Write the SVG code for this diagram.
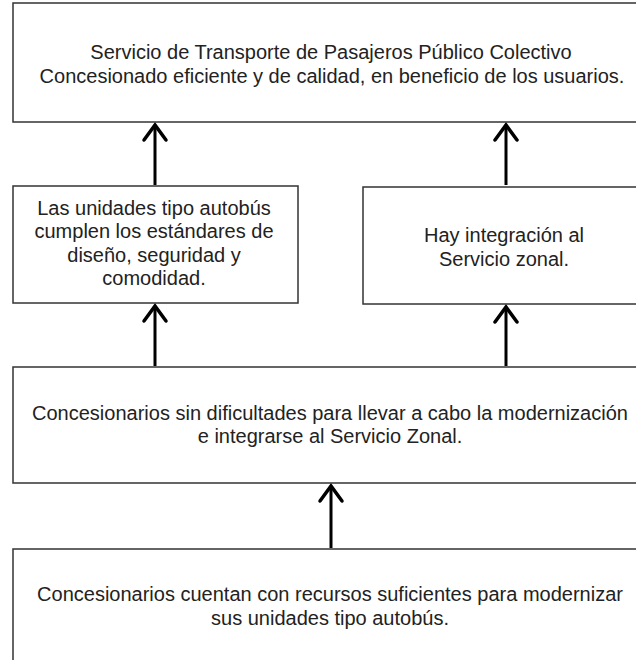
<svg xmlns="http://www.w3.org/2000/svg" width="636" height="660" viewBox="0 0 636 660">
<style>
.box{fill:#ffffff;stroke:#333333;stroke-width:1.5}
.t{font-family:"Liberation Sans",Arial,sans-serif;font-size:20px;fill:#222222;text-anchor:middle}
.c{stroke:#000000;stroke-width:3;fill:none}
</style>
<defs>
<marker id="ah" markerUnits="userSpaceOnUse" markerWidth="24" markerHeight="30" refX="19" refY="15" orient="auto" viewBox="0 0 24 30">
<polyline points="4,4 19,15 4,26" fill="none" stroke="#000000" stroke-width="3.5" stroke-linecap="round" stroke-linejoin="miter"/>
</marker>
</defs>
<rect width="636" height="660" fill="#ffffff"/>
<g id="connectors">
<line class="c" x1="155" y1="185" x2="155" y2="125" marker-end="url(#ah)"/>
<line class="c" x1="506" y1="185" x2="506" y2="125" marker-end="url(#ah)"/>
<line class="c" x1="155" y1="366" x2="155" y2="306" marker-end="url(#ah)"/>
<line class="c" x1="506" y1="366" x2="506" y2="307" marker-end="url(#ah)"/>
<line class="c" x1="331" y1="548" x2="331" y2="486" marker-end="url(#ah)"/>
</g>
<g id="node-goal">
<rect class="box" x="13" y="3" width="636" height="119"/>
<text class="t" x="331" y="59">Servicio de Transporte de Pasajeros Público Colectivo</text>
<text class="t" x="332" y="83">Concesionado eficiente y de calidad, en beneficio de los usuarios.</text>
</g>
<g id="node-units">
<rect class="box" x="13" y="186" width="285" height="117"/>
<text class="t" x="154" y="215">Las unidades tipo autobús</text>
<text class="t" x="154" y="238">cumplen los estándares de</text>
<text class="t" x="154" y="262">diseño, seguridad y</text>
<text class="t" x="154" y="285">comodidad.</text>
</g>
<g id="node-integration">
<rect class="box" x="363" y="187" width="290" height="117"/>
<text class="t" x="504" y="242">Hay integración al</text>
<text class="t" x="504" y="266">Servicio zonal.</text>
</g>
<g id="node-concessionaires">
<rect class="box" x="13" y="367" width="636" height="116"/>
<text class="t" x="330" y="420">Concesionarios sin dificultades para llevar a cabo la modernización</text>
<text class="t" x="330" y="443">e integrarse al Servicio Zonal.</text>
</g>
<g id="node-resources">
<rect class="box" x="13" y="549" width="636" height="120"/>
<text class="t" x="330" y="601">Concesionarios cuentan con recursos suficientes para modernizar</text>
<text class="t" x="330" y="625">sus unidades tipo autobús.</text>
</g>
</svg>
